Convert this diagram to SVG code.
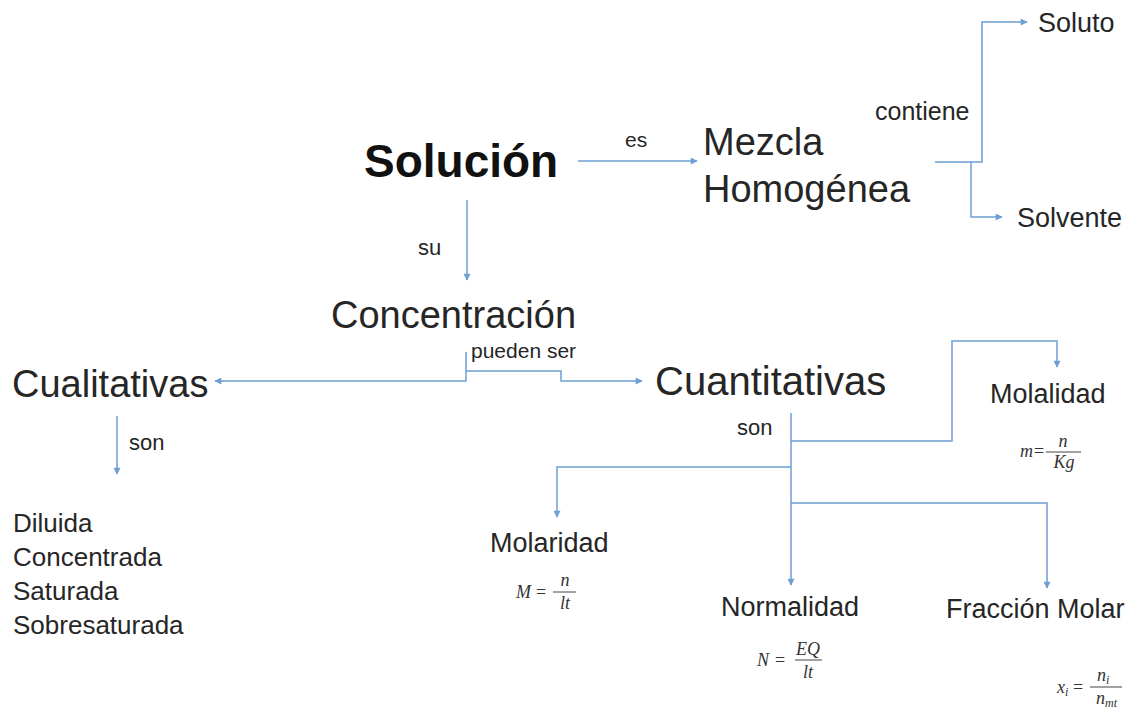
<svg xmlns="http://www.w3.org/2000/svg" width="1141" height="715" viewBox="0 0 1141 715">
<style>
.t{font-family:"Liberation Sans",Arial,sans-serif;fill:#262626}
.b{font-weight:bold;fill:#111}
.f{font-family:"Liberation Serif","Times New Roman",serif;font-style:italic;fill:#333;font-size:18px}
.n{font-style:normal}
.m{text-anchor:middle}
.fs{font-size:12px}
.c{fill:none;stroke:#6d9fd4;stroke-width:1.5}
.bar{stroke:#444;stroke-width:1}
</style>
<defs>
<marker id="ah" viewBox="0 0 10 10" refX="9" refY="5" markerWidth="8" markerHeight="7" markerUnits="userSpaceOnUse" orient="auto">
<path d="M0,0 L10,5 L0,10 z" fill="#6d9fd4"/>
</marker>
</defs>
<rect width="1141" height="715" fill="#ffffff"/>
<g id="connectors">
<path class="c" d="M578,161 H697" marker-end="url(#ah)"/>
<path class="c" d="M467,200 V280" marker-end="url(#ah)"/>
<path class="c" d="M935,162 H982 V22 H1027" marker-end="url(#ah)"/>
<path class="c" d="M971,162 V217 H1002" marker-end="url(#ah)"/>
<path class="c" d="M466,352 V381 H215" marker-end="url(#ah)"/>
<path class="c" d="M466,371 H561 V381 H642" marker-end="url(#ah)"/>
<path class="c" d="M117,416 V474" marker-end="url(#ah)"/>
<path class="c" d="M791,413 V585" marker-end="url(#ah)"/>
<path class="c" d="M791,441 H952 V341 H1057 V367" marker-end="url(#ah)"/>
<path class="c" d="M791,467 H557 V517" marker-end="url(#ah)"/>
<path class="c" d="M791,503 H1047 V588" marker-end="url(#ah)"/>
</g>
<g id="labels">
<text class="t" x="625" y="147" font-size="21">es</text>
<text class="t" x="418" y="255" font-size="22">su</text>
<text class="t" x="875" y="120" font-size="25">contiene</text>
<text class="t" x="471" y="358" font-size="21">pueden ser</text>
<text class="t" x="129" y="450" font-size="22">son</text>
<text class="t" x="737" y="435" font-size="22">son</text>
</g>
<g id="solucion"><text class="t b" x="364" y="177" font-size="46">Solución</text></g>
<g id="mezcla">
<text class="t" x="703" y="155" font-size="38">Mezcla</text>
<text class="t" x="703" y="202" font-size="38">Homogénea</text>
</g>
<g id="soluto"><text class="t" x="1038" y="32" font-size="27">Soluto</text></g>
<g id="solvente"><text class="t" x="1017" y="227" font-size="27">Solvente</text></g>
<g id="concentracion"><text class="t" x="331" y="328" font-size="38">Concentración</text></g>
<g id="cualitativas"><text class="t" x="12" y="397" font-size="38">Cualitativas</text></g>
<g id="cuantitativas"><text class="t" x="655" y="395" font-size="40">Cuantitativas</text></g>
<g id="tipos-cualitativas">
<text class="t" x="13" y="532" font-size="26">Diluida</text>
<text class="t" x="13" y="566" font-size="26">Concentrada</text>
<text class="t" x="13" y="600" font-size="26">Saturada</text>
<text class="t" x="13" y="634" font-size="26">Sobresaturada</text>
</g>
<g id="molalidad">
<text class="t" x="990" y="403" font-size="27">Molalidad</text>
<text class="f" x="1020" y="457">m</text>
<text class="f n" x="1034" y="457">=</text>
<line class="bar" x1="1046" y1="452" x2="1081" y2="452"/>
<text class="f m" x="1063" y="447">n</text>
<text class="f m" x="1064" y="468">Kg</text>
</g>
<g id="molaridad">
<text class="t" x="490" y="552" font-size="27">Molaridad</text>
<text class="f" x="516" y="598" font-size="19">M</text>
<text class="f n" x="536" y="598" font-size="19">=</text>
<line class="bar" x1="553" y1="592" x2="576" y2="592"/>
<text class="f m" x="565" y="586">n</text>
<text class="f m" x="565" y="609">lt</text>
</g>
<g id="normalidad">
<text class="t" x="721" y="616" font-size="27">Normalidad</text>
<text class="f" x="757" y="666">N</text>
<text class="f n" x="775" y="666">=</text>
<line class="bar" x1="795" y1="660" x2="822" y2="660"/>
<text class="f m" x="808" y="655">EQ</text>
<text class="f m" x="808" y="678">lt</text>
</g>
<g id="fraccion-molar">
<text class="t" x="946" y="618" font-size="27">Fracción Molar</text>
<text class="f" x="1057" y="693">x</text>
<text class="f fs" x="1065" y="696">i</text>
<text class="f n" x="1073" y="693">=</text>
<line class="bar" x1="1090" y1="687" x2="1122" y2="687"/>
<text class="f" x="1097" y="681">n</text>
<text class="f fs" x="1106" y="684">i</text>
<text class="f" x="1096" y="704">n</text>
<text class="f fs" x="1105" y="707">mt</text>
</g>
</svg>
